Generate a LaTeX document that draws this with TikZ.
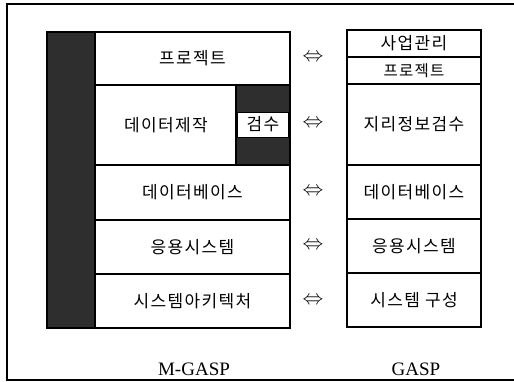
\documentclass[tikz,border=0pt]{standalone}
\usepackage{fontspec}
\setmainfont{Liberation Serif}
\newfontfamily\kr[LetterSpace=8]{Noto Sans CJK KR}
\begin{document}
\begin{tikzpicture}[x=1pt,y=-1pt,
  box/.style={draw=black, line width=1.1pt, fill=white, inner sep=0pt, font=\kr\fontsize{17}{19}\selectfont},
  txt/.style={inner sep=0pt, font=\kr\fontsize{17}{19}\selectfont},
  dark/.style={fill=black!82, draw=black, line width=1.1pt, inner sep=0pt},
  eq/.style={inner sep=0pt, font=\fontsize{20}{22}\selectfont},
  lab/.style={inner sep=0pt, font=\fontsize{19}{21}\selectfont}]
\useasboundingbox (0,0) rectangle (514,382);
% frame
\draw[line width=1.3pt] (516,4) -- (7,4) -- (7,380) -- (516,380);
% left column
\node[dark, minimum width=48pt, minimum height=296pt] (strip) at (71,180) {};
\node[box, minimum width=195pt, minimum height=53pt] (p1) at (192.5,58.5) {프로젝트};
\node[box, minimum width=195pt, minimum height=80pt] (p2) at (192.5,125) {};
\node[txt] (p2t) at (166,125) {데이터제작};
\node[dark, minimum width=54pt, minimum height=80pt] (chk) at (263,125) {};
\node[box, minimum width=51pt, minimum height=25pt, line width=0.8pt] (chkt) at (263,124.5) {검수};
\node[box, minimum width=195pt, minimum height=55pt] (p3) at (192.5,192.5) {데이터베이스};
\node[box, minimum width=195pt, minimum height=54pt] (p4) at (192.5,247) {응용시스템};
\node[box, minimum width=195pt, minimum height=54pt] (p5) at (192.5,301) {시스템아키텍처};
% right column
\node[box, minimum width=134pt, minimum height=27pt] (r0) at (414,43.5) {사업관리};
\node[box, minimum width=134pt, minimum height=27pt, font=\kr\fontsize{15.5}{17}\selectfont] (r1) at (414,70.5) {프로젝트};
\node[box, minimum width=134pt, minimum height=81pt] (r2) at (414,124.5) {지리정보검수};
\node[box, minimum width=134pt, minimum height=54pt] (r3) at (414,192) {데이터베이스};
\node[box, minimum width=134pt, minimum height=54pt] (r4) at (414,246) {응용시스템};
\node[box, minimum width=134pt, minimum height=54pt] (r5) at (414,300) {시스템 구성};
% equivalence signs
\node[eq] (e1) at (313,58) {$\Leftrightarrow$};
\node[eq] (e2) at (313,124) {$\Leftrightarrow$};
\node[eq] (e3) at (313,192) {$\Leftrightarrow$};
\node[eq] (e4) at (313,246) {$\Leftrightarrow$};
\node[eq] (e5) at (313,301) {$\Leftrightarrow$};
% labels
\node[lab] (lm) at (194,369) {M-GASP};
\node[lab] (lg) at (416,369) {GASP};
\end{tikzpicture}
\end{document}
